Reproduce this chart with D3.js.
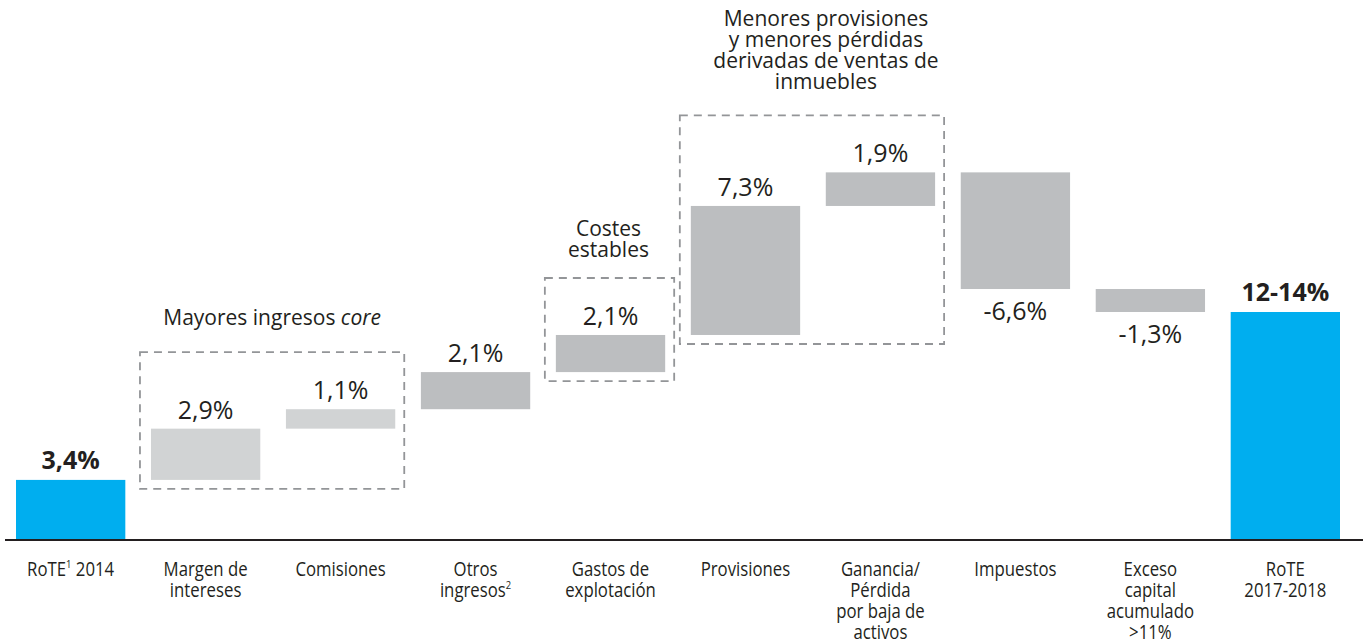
<!DOCTYPE html>
<html lang="es">
<head>
<meta charset="UTF-8">
<title>RoTE 2014 - 2017-2018</title>
<script src="https://cdnjs.cloudflare.com/ajax/libs/d3/7.8.5/d3.min.js"></script>
<style>
  body { margin: 0; background: #fff; font-family: "Open Sans", sans-serif; }
  svg { display: block; }
</style>
</head>
<body>
<div id="chart"></div>
<script>
// data
const categories = ["RoTE 2014", "Margen de intereses", "Comisiones", "Otros ingresos", "Gastos de explotación",
  "Provisiones", "Ganancia/Pérdida por baja de activos", "Impuestos", "Exceso capital acumulado >11%", "RoTE 2017-2018"];
const categoryLines = [["RoTE^1^ 2014"], ["Margen de", "intereses"], ["Comisiones"], ["Otros", "ingresos^2^"],
  ["Gastos de", "explotación"], ["Provisiones"], ["Ganancia/", "Pérdida", "por baja de", "activos"], ["Impuestos"],
  ["Exceso", "capital", "acumulado", ">11%"], ["RoTE", "2017-2018"]];
const values = [3.4, 2.9, 1.1, 2.1, 2.1, 7.3, 1.9, -6.6, -1.3, 12.9];
const barKinds = ["total", "core", "core", "delta", "delta", "delta", "delta", "delta", "delta", "total"];
const valueLabels = ["3,4%", "2,9%", "1,1%", "2,1%", "2,1%", "7,3%", "1,9%", "-6,6%", "-1,3%", "12-14%"];
const groupTitles = [["Mayores ingresos _core_"], ["Costes", "estables"],
  ["Menores provisiones", "y menores pérdidas", "derivadas de ventas de", "inmuebles"]];
const groupMembers = [[1, 2], [4, 4], [5, 6]];

const width = 1363, height = 643;
const colors = { total: "#00aeef", core: "#d1d3d4", delta: "#bcbec0" };
const textColor = "#231f20";

const svg = d3.select("#chart").append("svg")
  .attr("width", width)
  .attr("height", height);

const x = d3.scaleBand().domain(categories).range([16, 1340]).paddingInner(0.19).paddingOuter(0);
const y = d3.scaleLinear().domain([0, 12.9]).range([540, 312]);

// waterfall steps
let run = 0;
const bars = values.map((v, i) => {
  let y0, y1;
  if (barKinds[i] === "total") { y0 = 0; y1 = v; run = v; }
  else { y0 = run; y1 = run + v; run += v; }
  return { cat: categories[i], kind: barKinds[i], v, y0, y1, lo: Math.min(y0, y1), hi: Math.max(y0, y1), label: valueLabels[i] };
});

svg.append("g").selectAll("rect")
  .data(bars)
  .join("rect")
  .attr("x", d => x(d.cat))
  .attr("y", d => y(d.hi))
  .attr("width", x.bandwidth())
  .attr("height", d => y(d.lo) - y(d.hi))
  .attr("fill", d => colors[d.kind]);

// value labels
svg.append("g").selectAll("text")
  .data(bars)
  .join("text")
  .attr("x", d => x(d.cat) + x.bandwidth() / 2)
  .attr("y", d => d.v < 0 ? y(d.lo) + 31 : y(d.hi) - (d.kind === "total" ? 11 : 10))
  .attr("text-anchor", "middle")
  .attr("font-size", 25)
  .attr("font-weight", d => d.kind === "total" ? 700 : 400)
  .attr("fill", textColor)
  .text(d => d.label);

// baseline
svg.append("line")
  .attr("x1", 5).attr("x2", width)
  .attr("y1", y(0)).attr("y2", y(0))
  .attr("stroke", textColor)
  .attr("stroke-width", 2);

// category labels (condensed look)
function addLine(sel, str) {
  const parts = str.split("^");
  parts.forEach((p, k) => {
    if (!p) return;
    if (k % 2 === 1) sel.append("tspan").attr("font-size", 11).attr("baseline-shift", "7").text(p);
    else sel.append("tspan").text(p);
  });
}

const catG = svg.append("g");
categories.forEach((c, i) => {
  const g = catG.append("g")
    .attr("transform", `translate(${x(c) + x.bandwidth() / 2},576) scale(0.86,1)`);
  categoryLines[i].forEach((ln, k) => {
    const t = g.append("text")
      .attr("y", k * 21)
      .attr("text-anchor", "middle")
      .attr("font-size", 19.5)
      .attr("fill", textColor);
    addLine(t, ln);
  });
});

// dashed group boxes with titles
const titleGap = [27, 21, 26];
const titleShift = [0, -1, 14];
groupMembers.forEach((m, gi) => {
  const members = bars.slice(m[0], m[1] + 1);
  const left = x(categories[m[0]]) - 11;
  const right = x(categories[m[1]]) + x.bandwidth() + 9;
  const top = d3.min(members, d => y(d.hi)) - 57;
  const bottom = d3.max(members, d => y(d.lo)) + 9;

  svg.append("rect")
    .attr("x", left).attr("y", top)
    .attr("width", right - left).attr("height", bottom - top)
    .attr("fill", "none")
    .attr("stroke", "#939598")
    .attr("stroke-width", 1.8)
    .attr("stroke-dasharray", "8,6");

  const lines = groupTitles[gi];
  const cx = (left + right) / 2 + titleShift[gi];
  lines.forEach((ln, k) => {
    const t = svg.append("text")
      .attr("x", cx)
      .attr("y", top - titleGap[gi] - (lines.length - 1 - k) * 21)
      .attr("text-anchor", "middle")
      .attr("font-size", 21)
      .attr("fill", textColor);
    ln.split("_").forEach((p, j) => {
      if (!p) return;
      t.append("tspan").attr("font-style", j % 2 ? "italic" : "normal").text(p);
    });
  });
});
</script>
</body>
</html>
